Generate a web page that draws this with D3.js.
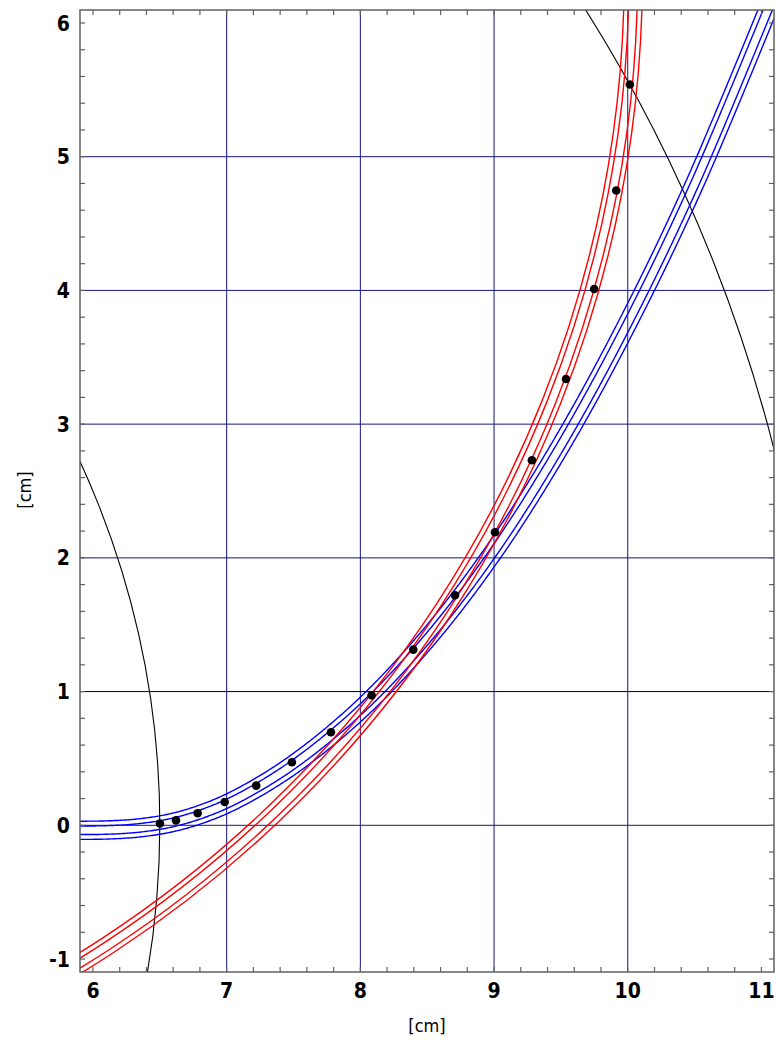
<!DOCTYPE html>
<html>
<head>
<meta charset="utf-8">
<script src="https://cdn.jsdelivr.net/npm/d3@7"></script>
<style>
  body { margin: 0; background: #fff; }
  svg { display: block; }
</style>
</head>
<body>
<svg id="chart" width="776" height="1044"></svg>
<script>
// Axis ticks and reference grid (cm)
const xTicks = [6, 7, 8, 9, 10, 11];
const yTicks = [-1, 0, 1, 2, 3, 4, 5, 6];
const gridX = [7, 8, 9, 10];
const gridY = [0, 2, 3, 4, 5];
const gridYDark = [1];

// Measured hit positions (cm)
const hitX = [6.501, 6.621, 6.783, 6.985, 7.221, 7.488, 7.780, 8.084, 8.396, 8.708, 9.007, 9.283, 9.538, 9.749, 9.914, 10.016];
const hitY = [0.013, 0.037, 0.090, 0.174, 0.297, 0.471, 0.696, 0.972, 1.314, 1.720, 2.191, 2.730, 3.338, 4.011, 4.747, 5.540];

// Inner and outer layer radii, centred on the origin (cm)
const layerRadii = [6.5, 11.445];

// Circular track hypothesis: centre and radius (cm)
const redCenter = [1.355, 6.371];
const redRadius = 8.687;

// Second track hypothesis, sampled along its centre line (cm)
const blueX = [5.85, 6.10, 6.35, 6.60, 6.85, 7.10, 7.50, 8.00, 8.50, 9.00, 9.50, 10.00, 10.50, 11.15];
const blueY = [-0.037, -0.035, -0.019, 0.022, 0.098, 0.210, 0.455, 0.865, 1.395, 2.050, 2.840, 3.755, 4.795, 6.350];

// Error band offsets either side of each track (cm)
const bandOffsets = [-0.068, -0.032, 0.032, 0.068];

const svg = d3.select("#chart");
const plotLeft = 80, plotRight = 774, plotTop = 10, plotBottom = 972;

const x = d3.scaleLinear().domain([5.903, 11.094]).range([plotLeft, plotRight]);
const y = d3.scaleLinear().domain([-1.097, 6.097]).range([plotBottom, plotTop]);
const pxPerCm = (plotRight - plotLeft) / (11.094 - 5.903);

svg.append("defs").append("clipPath").attr("id", "plot-clip")
  .append("rect")
  .attr("x", plotLeft).attr("y", plotTop)
  .attr("width", plotRight - plotLeft).attr("height", plotBottom - plotTop);

const plot = svg.append("g").attr("clip-path", "url(#plot-clip)");

// Grid
plot.append("g").selectAll("line").data(gridX).join("line")
  .attr("x1", d => x(d)).attr("x2", d => x(d))
  .attr("y1", plotTop).attr("y2", plotBottom)
  .attr("stroke", "#14147f").attr("stroke-width", 1);
plot.append("g").selectAll("line").data(gridY).join("line")
  .attr("x1", plotLeft).attr("x2", plotRight)
  .attr("y1", d => y(d)).attr("y2", d => y(d))
  .attr("stroke", "#14147f").attr("stroke-width", 1);
plot.append("g").selectAll("line").data(gridYDark).join("line")
  .attr("x1", plotLeft).attr("x2", plotRight)
  .attr("y1", d => y(d)).attr("y2", d => y(d))
  .attr("stroke", "#000").attr("stroke-width", 1);

// Layer circles
plot.append("g").selectAll("ellipse").data(layerRadii).join("ellipse")
  .attr("cx", x(0)).attr("cy", y(0))
  .attr("rx", d => x(d) - x(0)).attr("ry", d => y(0) - y(d))
  .attr("fill", "none").attr("stroke", "#000").attr("stroke-width", 1.1);

// Blue track: smooth centre line, then densely sampled offset copies
const bluePts = blueX.map((v, i) => [x(v), y(blueY[i])]);
const smooth = d3.line().curve(d3.curveCatmullRom.alpha(0.5));
const centrePath = svg.append("path").attr("d", smooth(bluePts))
  .attr("fill", "none").attr("stroke", "none");
const node = centrePath.node();
const total = node.getTotalLength();
const dense = d3.range(0, total, 1.5).concat([total]).map(t => {
  const p = node.getPointAtLength(t);
  return [p.x, p.y];
});
centrePath.remove();

function offsetCurve(pts, off) {
  return pts.map((p, i) => {
    const a = pts[Math.max(0, i - 2)], b = pts[Math.min(pts.length - 1, i + 2)];
    const dx = b[0] - a[0], dy = b[1] - a[1];
    const len = Math.hypot(dx, dy);
    return [p[0] - dy / len * off, p[1] + dx / len * off];
  });
}
const straight = d3.line();
plot.append("g").selectAll("path").data(bandOffsets).join("path")
  .attr("d", d => straight(offsetCurve(dense, d * pxPerCm)))
  .attr("fill", "none").attr("stroke", "#0000ff").attr("stroke-width", 1.4);

// Red track with concentric bands
plot.append("g").selectAll("ellipse").data(bandOffsets).join("ellipse")
  .attr("cx", x(redCenter[0])).attr("cy", y(redCenter[1]))
  .attr("rx", d => x(redCenter[0] + redRadius + d) - x(redCenter[0]))
  .attr("ry", d => y(redCenter[1]) - y(redCenter[1] + redRadius + d))
  .attr("fill", "none").attr("stroke", "#ff0000").attr("stroke-width", 1.4);

// Hits
plot.append("g").selectAll("circle").data(hitX).join("circle")
  .attr("cx", d => x(d)).attr("cy", (d, i) => y(hitY[i]))
  .attr("r", 4.3).attr("fill", "#000");

// Frame
svg.append("rect")
  .attr("x", plotLeft).attr("y", plotTop)
  .attr("width", plotRight - plotLeft).attr("height", plotBottom - plotTop)
  .attr("fill", "none").attr("stroke", "#606060").attr("stroke-width", 1.5);

// Minor ticks every 0.2 cm on all four sides, pointing inward
const xMinor = d3.range(30, 56).map(d => d / 5);
const yMinor = d3.range(-5, 31).map(d => d / 5);
const tickLen = 5;
const ticks = svg.append("g").attr("stroke", "#606060").attr("stroke-width", 1.2);
xMinor.forEach(v => {
  ticks.append("line").attr("x1", x(v)).attr("x2", x(v)).attr("y1", plotBottom).attr("y2", plotBottom - tickLen);
  ticks.append("line").attr("x1", x(v)).attr("x2", x(v)).attr("y1", plotTop).attr("y2", plotTop + tickLen);
});
yMinor.forEach(v => {
  ticks.append("line").attr("y1", y(v)).attr("y2", y(v)).attr("x1", plotLeft).attr("x2", plotLeft + tickLen);
  ticks.append("line").attr("y1", y(v)).attr("y2", y(v)).attr("x1", plotRight).attr("x2", plotRight - tickLen);
});

// Tick labels
const font = "'DejaVu Sans Condensed', 'DejaVu Sans', sans-serif";
svg.append("g").selectAll("text").data(xTicks).join("text")
  .attr("x", d => x(d)).attr("y", 998)
  .attr("text-anchor", "middle")
  .attr("font-family", font).attr("font-weight", "bold").attr("font-size", 21)
  .attr("fill", "#000")
  .text(d => d);
svg.append("g").selectAll("text").data(yTicks).join("text")
  .attr("x", 70).attr("y", d => y(d))
  .attr("dy", "0.36em")
  .attr("text-anchor", "end")
  .attr("font-family", font).attr("font-weight", "bold").attr("font-size", 21)
  .attr("fill", "#000")
  .text(d => d);

// Axis titles
svg.append("text")
  .attr("x", 427).attr("y", 1032)
  .attr("text-anchor", "middle")
  .attr("font-family", font).attr("font-size", 18).attr("fill", "#000")
  .text("[cm]");
svg.append("text")
  .attr("transform", "translate(31,490) rotate(-90)")
  .attr("text-anchor", "middle")
  .attr("font-family", font).attr("font-size", 18).attr("fill", "#000")
  .text("[cm]");
</script>
</body>
</html>
